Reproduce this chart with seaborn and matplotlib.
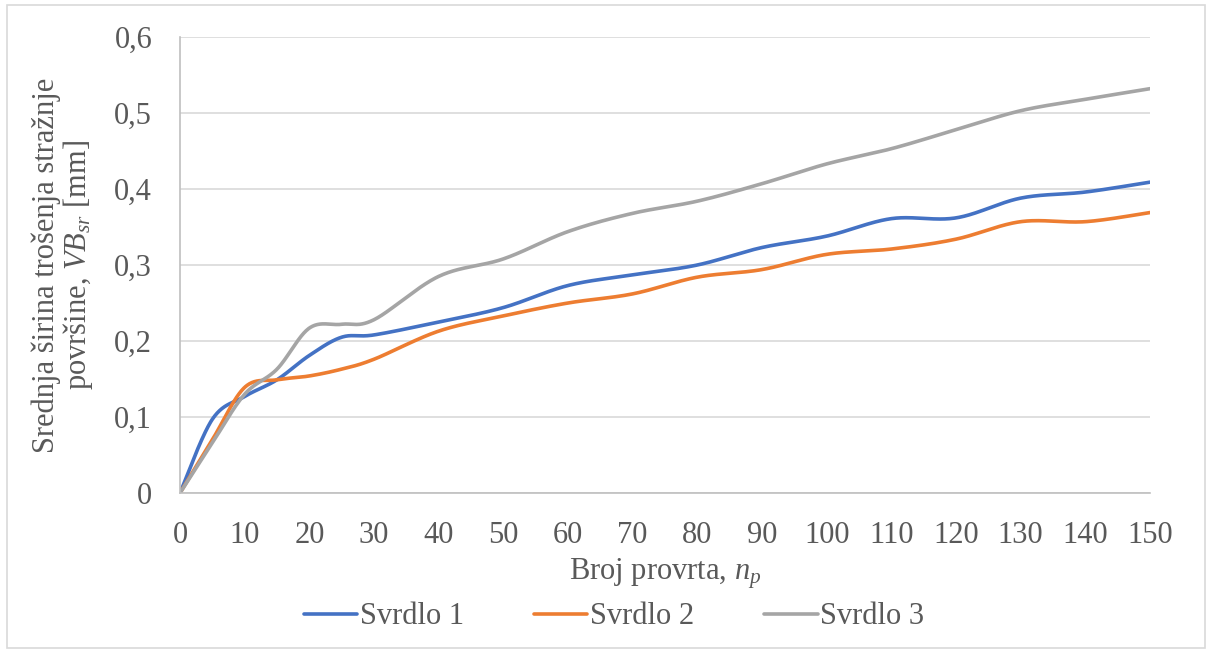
import numpy as np
import pandas as pd
import matplotlib
matplotlib.use("Agg")
import matplotlib.pyplot as plt
from matplotlib.patches import Rectangle
from matplotlib.lines import Line2D
import seaborn as sns

# Tool wear measurements
broj_provrta = [0, 5, 10, 15, 20, 25, 30, 40, 50, 60, 70, 80, 90, 100, 110, 120, 130, 140, 150]
svrdlo_1 = [0, 0.097, 0.127, 0.149, 0.181, 0.205, 0.208, 0.225, 0.244, 0.273, 0.287, 0.300,
            0.323, 0.338, 0.361, 0.362, 0.388, 0.396, 0.409]
svrdlo_2 = [0, 0.070, 0.139, 0.149, 0.154, 0.163, 0.176, 0.213, 0.233, 0.250, 0.262, 0.284,
            0.294, 0.314, 0.321, 0.334, 0.357, 0.357, 0.369]
svrdlo_3 = [0, 0.066, 0.130, 0.163, 0.217, 0.222, 0.228, 0.285, 0.308, 0.344, 0.368, 0.384,
            0.407, 0.433, 0.453, 0.478, 0.503, 0.518, 0.532]
series_names = ["Svrdlo 1", "Svrdlo 2", "Svrdlo 3"]
colors = ["#4472C4", "#ED7D31", "#A5A5A5"]
x_ticks = list(range(0, 151, 10))
y_ticks = [0, 0.1, 0.2, 0.3, 0.4, 0.5, 0.6]


def smooth(xs, ys, n=40):
    """Spreadsheet-style smoothed line: cubic Bezier segments with
    control points at +/- (P[i+1] - P[i-1]) / 6."""
    p = np.column_stack([xs, ys]).astype(float)
    m = len(p)
    out = []
    t = np.linspace(0, 1, n, endpoint=False)[:, None]
    for i in range(m - 1):
        p0 = p[i]
        p3 = p[i + 1]
        prev = p[i - 1] if i > 0 else p[i]
        nxt = p[i + 2] if i + 2 < m else p[i + 1]
        c1 = p0 + (p3 - prev) / 6.0
        c2 = p3 - (nxt - p0) / 6.0
        seg = ((1 - t) ** 3) * p0 + 3 * ((1 - t) ** 2) * t * c1 + 3 * (1 - t) * t ** 2 * c2 + t ** 3 * p3
        out.append(seg)
    out.append(p[-1][None, :])
    return np.vstack(out)


frames = []
for name, vals in zip(series_names, [svrdlo_1, svrdlo_2, svrdlo_3]):
    s = smooth(broj_provrta, vals)
    frames.append(pd.DataFrame({"x": s[:, 0], "y": s[:, 1], "serija": name}))
df = pd.concat(frames, ignore_index=True)

sns.set_theme(style="white")
plt.rcParams["font.family"] = ["Liberation Serif", "DejaVu Serif"]
plt.rcParams["mathtext.fontset"] = "custom"
plt.rcParams["mathtext.rm"] = "Liberation Serif"
plt.rcParams["mathtext.it"] = "Liberation Serif:italic"

FS = 22
TXT = "#595959"

fig = plt.figure(figsize=(12.12, 6.53), dpi=100)
W, H = 1212, 653
ax = fig.add_axes([180 / W, 1 - 493 / H, (1150 - 180) / W, (493 - 37) / H])

sns.lineplot(data=df, x="x", y="y", hue="serija", palette=colors, sort=False,
             estimator=None, units="serija", linewidth=2.6, ax=ax, legend=False)

ax.set_xlim(0, 150)
ax.set_ylim(0, 0.6)
ax.set_xticks(x_ticks)
ax.set_yticks(y_ticks)
ax.set_xticklabels([str(v) for v in x_ticks])
ax.set_yticklabels([("%g" % v).replace(".", ",") for v in y_ticks])
ax.tick_params(axis="both", length=0, labelsize=FS, labelcolor=TXT)
ax.tick_params(axis="x", pad=20)
ax.tick_params(axis="y", pad=20)
ax.yaxis.grid(True, color="#D9D9D9", linewidth=1.2)
ax.xaxis.grid(False)
for side in ["top", "right"]:
    ax.spines[side].set_visible(False)
for side in ["left", "bottom"]:
    ax.spines[side].set_color("#BFBFBF")
    ax.spines[side].set_linewidth(1.2)

ax.set_xlabel("Broj provrta, $\\mathit{n}_{\\mathit{p}}$", fontsize=FS, color=TXT, labelpad=5)
ax.set_ylabel("Srednja širina trošenja stražnje\npovršine, $\\mathit{VB}_{\\mathit{sr}}$ [mm]",
              fontsize=FS, color=TXT, labelpad=14, linespacing=1.0)

handles = [Line2D([0], [0], color=c, linewidth=2.6) for c in colors]
fig.legend(handles, series_names, loc="center", bbox_to_anchor=(614 / W, 1 - 617 / H),
           ncol=3, frameon=False, fontsize=FS, handlelength=1.75, handletextpad=0.08,
           columnspacing=2.3, labelcolor=TXT)

fig.patches.append(Rectangle((7 / W, 1 - 648 / H), (1205 - 7) / W, (648 - 5) / H,
                             transform=fig.transFigure, fill=False,
                             edgecolor="#D9D9D9", linewidth=1.2))

fig.savefig("out.png", dpi=100, facecolor="white")
